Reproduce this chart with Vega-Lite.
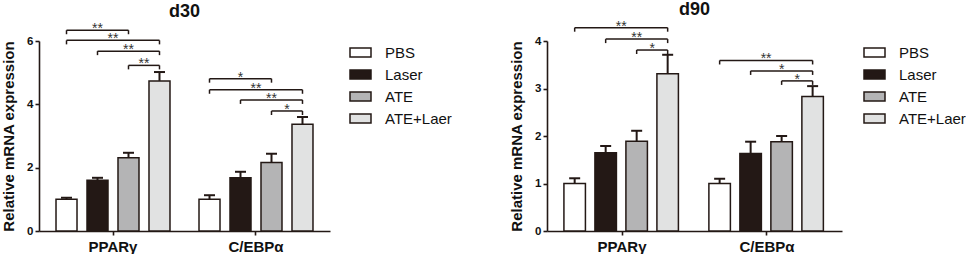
{
  "$schema": "https://vega.github.io/schema/vega-lite/v6.json",
  "background": "white",
  "padding": {"left": 1, "top": 0, "right": 0, "bottom": 0},
  "config": {
    "font": "Liberation Sans",
    "view": {"stroke": null},
    "title": {"font": "Liberation Sans", "fontSize": 18, "fontWeight": "bold", "color": "#111111", "anchor": "middle"},
    "axis": {"domainColor": "#231815", "domainWidth": 1.6, "tickColor": "#231815", "tickWidth": 1.6, "tickSize": 4, "labelColor": "#111111", "titleColor": "#111111", "labelFont": "Liberation Sans", "titleFont": "Liberation Sans", "labelFontWeight": "bold", "titleFontWeight": "bold", "grid": false},
    "legend": {"labelFont": "Liberation Sans", "labelFontSize": 15, "labelColor": "#111111", "symbolType": "M-1,-0.43L1,-0.43L1,0.43L-1,0.43Z", "symbolSize": 441, "symbolStrokeColor": "#231815", "symbolStrokeWidth": 1.5, "rowPadding": 2, "labelOffset": 13}
  },
  "datasets": {
    "bars": [
      {"panel": "d30", "gene": "PPARγ", "treatment": "PBS", "mean": 1.0, "upper": 1.05},
      {"panel": "d30", "gene": "PPARγ", "treatment": "Laser", "mean": 1.6, "upper": 1.68},
      {"panel": "d30", "gene": "PPARγ", "treatment": "ATE", "mean": 2.31, "upper": 2.47},
      {"panel": "d30", "gene": "PPARγ", "treatment": "ATE+Laer", "mean": 4.74, "upper": 5.02},
      {"panel": "d30", "gene": "C/EBPα", "treatment": "PBS", "mean": 1.0, "upper": 1.13},
      {"panel": "d30", "gene": "C/EBPα", "treatment": "Laser", "mean": 1.68, "upper": 1.87},
      {"panel": "d30", "gene": "C/EBPα", "treatment": "ATE", "mean": 2.16, "upper": 2.44},
      {"panel": "d30", "gene": "C/EBPα", "treatment": "ATE+Laer", "mean": 3.37, "upper": 3.6},
      {"panel": "d90", "gene": "PPARγ", "treatment": "PBS", "mean": 1.0, "upper": 1.11},
      {"panel": "d90", "gene": "PPARγ", "treatment": "Laser", "mean": 1.65, "upper": 1.79},
      {"panel": "d90", "gene": "PPARγ", "treatment": "ATE", "mean": 1.89, "upper": 2.11},
      {"panel": "d90", "gene": "PPARγ", "treatment": "ATE+Laer", "mean": 3.31, "upper": 3.71},
      {"panel": "d90", "gene": "C/EBPα", "treatment": "PBS", "mean": 1.0, "upper": 1.1},
      {"panel": "d90", "gene": "C/EBPα", "treatment": "Laser", "mean": 1.63, "upper": 1.88},
      {"panel": "d90", "gene": "C/EBPα", "treatment": "ATE", "mean": 1.88, "upper": 2.0},
      {"panel": "d90", "gene": "C/EBPα", "treatment": "ATE+Laer", "mean": 2.83, "upper": 3.05}
    ],
    "sig": [
      {"panel": "d30", "gene": "PPARγ", "from": "PBS", "to": "ATE", "mid": "Laser", "y": 6.34, "label": "**"},
      {"panel": "d30", "gene": "PPARγ", "from": "PBS", "to": "ATE+Laer", "mid": "Laser|ATE", "y": 6.02, "label": "**"},
      {"panel": "d30", "gene": "PPARγ", "from": "Laser", "to": "ATE+Laer", "mid": "ATE", "y": 5.68, "label": "**"},
      {"panel": "d30", "gene": "PPARγ", "from": "ATE", "to": "ATE+Laer", "mid": "ATE|ATE+Laer", "y": 5.23, "label": "**"},
      {"panel": "d30", "gene": "C/EBPα", "from": "PBS", "to": "ATE", "mid": "Laser", "y": 4.81, "label": "*"},
      {"panel": "d30", "gene": "C/EBPα", "from": "PBS", "to": "ATE+Laer", "mid": "Laser|ATE", "y": 4.46, "label": "**"},
      {"panel": "d30", "gene": "C/EBPα", "from": "Laser", "to": "ATE+Laer", "mid": "ATE", "y": 4.14, "label": "**"},
      {"panel": "d30", "gene": "C/EBPα", "from": "ATE", "to": "ATE+Laer", "mid": "ATE|ATE+Laer", "y": 3.79, "label": "*"},
      {"panel": "d90", "gene": "PPARγ", "from": "PBS", "to": "ATE+Laer", "mid": "Laser|ATE", "y": 4.28, "label": "**"},
      {"panel": "d90", "gene": "PPARγ", "from": "Laser", "to": "ATE+Laer", "mid": "ATE", "y": 4.04, "label": "**"},
      {"panel": "d90", "gene": "PPARγ", "from": "ATE", "to": "ATE+Laer", "mid": "ATE|ATE+Laer", "y": 3.81, "label": "*"},
      {"panel": "d90", "gene": "C/EBPα", "from": "PBS", "to": "ATE+Laer", "mid": "Laser|ATE", "y": 3.59, "label": "**"},
      {"panel": "d90", "gene": "C/EBPα", "from": "Laser", "to": "ATE+Laer", "mid": "ATE", "y": 3.37, "label": "*"},
      {"panel": "d90", "gene": "C/EBPα", "from": "ATE", "to": "ATE+Laer", "mid": "ATE|ATE+Laer", "y": 3.16, "label": "*"}
    ]
  },
  "resolve": {"scale": {"x": "independent", "y": "independent", "fill": "independent"}, "legend": {"fill": "independent"}},
  "spacing": 57,
  "hconcat": [
    {
      "title": {"text": "d30", "offset": 1},
      "width": 291,
      "height": 190,
      "layer": [
        {
          "data": {"name": "bars"},
          "transform": [{"filter": "datum.panel === 'd30'"}],
          "mark": {"type": "bar", "width": 21, "stroke": "#231815", "strokeWidth": 1.5},
          "encoding": {
            "x": {"field": "gene", "type": "nominal", "sort": ["PPARγ", "C/EBPα"], "scale": {"paddingInner": 0.133, "paddingOuter": 0.084}, "axis": {"title": null, "labelAngle": 0, "labelFontSize": 15, "labelPadding": 4}},
            "xOffset": {"field": "treatment", "type": "nominal", "scale": {"domain": ["PBS", "PBS|Laser", "Laser", "Laser|ATE", "ATE", "ATE|ATE+Laer", "ATE+Laer"], "paddingInner": 0, "paddingOuter": 0.5}},
            "y": {"field": "mean", "type": "quantitative", "scale": {"domain": [0, 6], "nice": false}, "axis": {"title": "Relative mRNA expression", "titleFontSize": 15, "titlePadding": 10, "values": [0, 2, 4, 6], "labelFontSize": 11.5, "labelPadding": 2}},
            "fill": {"field": "treatment", "type": "nominal", "scale": {"domain": ["PBS", "Laser", "ATE", "ATE+Laer"], "range": ["#ffffff", "#231815", "#b4b4b5", "#e1e2e2"]}, "legend": {"title": null, "offset": 19}}
          }
        },
        {
          "data": {"name": "bars"},
          "transform": [{"filter": "datum.panel === 'd30'"}],
          "mark": {"type": "rule", "color": "#231815", "strokeWidth": 2},
          "encoding": {
            "x": {"field": "gene", "type": "nominal", "sort": ["PPARγ", "C/EBPα"]},
            "xOffset": {"field": "treatment", "type": "nominal", "scale": {"domain": ["PBS", "PBS|Laser", "Laser", "Laser|ATE", "ATE", "ATE|ATE+Laer", "ATE+Laer"]}},
            "y": {"field": "mean", "type": "quantitative"},
            "y2": {"field": "upper"}
          }
        },
        {
          "data": {"name": "bars"},
          "transform": [{"filter": "datum.panel === 'd30'"}],
          "mark": {"type": "tick", "orient": "horizontal", "color": "#231815", "size": 11, "thickness": 2, "opacity": 1},
          "encoding": {
            "x": {"field": "gene", "type": "nominal", "sort": ["PPARγ", "C/EBPα"]},
            "xOffset": {"field": "treatment", "type": "nominal", "scale": {"domain": ["PBS", "PBS|Laser", "Laser", "Laser|ATE", "ATE", "ATE|ATE+Laer", "ATE+Laer"]}},
            "y": {"field": "upper", "type": "quantitative"}
          }
        },
        {
          "data": {"name": "sig"},
          "transform": [{"filter": "datum.panel === 'd30'"}, {"fold": ["from", "to"], "as": ["end", "treat"]}],
          "mark": {"type": "line", "color": "#231815", "strokeWidth": 1.5},
          "encoding": {
            "x": {"field": "gene", "type": "nominal", "sort": ["PPARγ", "C/EBPα"]},
            "xOffset": {"field": "treat", "type": "nominal", "scale": {"domain": ["PBS", "PBS|Laser", "Laser", "Laser|ATE", "ATE", "ATE|ATE+Laer", "ATE+Laer"]}},
            "y": {"field": "y", "type": "quantitative"},
            "detail": {"field": "y", "type": "quantitative"}
          }
        },
        {
          "data": {"name": "sig"},
          "transform": [{"filter": "datum.panel === 'd30'"}, {"fold": ["from", "to"], "as": ["end", "treat"]}],
          "mark": {"type": "rule", "color": "#231815", "strokeWidth": 1.5, "y2Offset": 4},
          "encoding": {
            "x": {"field": "gene", "type": "nominal", "sort": ["PPARγ", "C/EBPα"]},
            "xOffset": {"field": "treat", "type": "nominal", "scale": {"domain": ["PBS", "PBS|Laser", "Laser", "Laser|ATE", "ATE", "ATE|ATE+Laer", "ATE+Laer"]}},
            "y": {"field": "y", "type": "quantitative"},
            "y2": {"field": "y"}
          }
        },
        {
          "data": {"name": "sig"},
          "transform": [{"filter": "datum.panel === 'd30'"}],
          "mark": {"type": "text", "fontSize": 14, "color": "#333333", "baseline": "alphabetic", "dy": 3},
          "encoding": {
            "x": {"field": "gene", "type": "nominal", "sort": ["PPARγ", "C/EBPα"]},
            "xOffset": {"field": "mid", "type": "nominal", "scale": {"domain": ["PBS", "PBS|Laser", "Laser", "Laser|ATE", "ATE", "ATE|ATE+Laer", "ATE+Laer"]}},
            "y": {"field": "y", "type": "quantitative"},
            "text": {"field": "label"}
          }
        }
      ]
    },
    {
      "title": {"text": "d90", "offset": 1},
      "width": 295,
      "height": 190,
      "layer": [
        {
          "data": {"name": "bars"},
          "transform": [{"filter": "datum.panel === 'd90'"}],
          "mark": {"type": "bar", "width": 21.5, "stroke": "#231815", "strokeWidth": 1.5},
          "encoding": {
            "x": {"field": "gene", "type": "nominal", "sort": ["PPARγ", "C/EBPα"], "scale": {"paddingInner": 0.133, "paddingOuter": 0.084}, "axis": {"title": null, "labelAngle": 0, "labelFontSize": 15, "labelPadding": 4}},
            "xOffset": {"field": "treatment", "type": "nominal", "scale": {"domain": ["PBS", "PBS|Laser", "Laser", "Laser|ATE", "ATE", "ATE|ATE+Laer", "ATE+Laer"], "paddingInner": 0, "paddingOuter": 0.5}},
            "y": {"field": "mean", "type": "quantitative", "scale": {"domain": [0, 4], "nice": false}, "axis": {"title": "Relative mRNA expression", "titleFontSize": 15, "titlePadding": 10, "values": [0, 1, 2, 3, 4], "labelFontSize": 11.5, "labelPadding": 2}},
            "fill": {"field": "treatment", "type": "nominal", "scale": {"domain": ["PBS", "Laser", "ATE", "ATE+Laer"], "range": ["#ffffff", "#231815", "#b4b4b5", "#e1e2e2"]}, "legend": {"title": null, "offset": 21}}
          }
        },
        {
          "data": {"name": "bars"},
          "transform": [{"filter": "datum.panel === 'd90'"}],
          "mark": {"type": "rule", "color": "#231815", "strokeWidth": 2},
          "encoding": {
            "x": {"field": "gene", "type": "nominal", "sort": ["PPARγ", "C/EBPα"]},
            "xOffset": {"field": "treatment", "type": "nominal", "scale": {"domain": ["PBS", "PBS|Laser", "Laser", "Laser|ATE", "ATE", "ATE|ATE+Laer", "ATE+Laer"]}},
            "y": {"field": "mean", "type": "quantitative"},
            "y2": {"field": "upper"}
          }
        },
        {
          "data": {"name": "bars"},
          "transform": [{"filter": "datum.panel === 'd90'"}],
          "mark": {"type": "tick", "orient": "horizontal", "color": "#231815", "size": 11, "thickness": 2, "opacity": 1},
          "encoding": {
            "x": {"field": "gene", "type": "nominal", "sort": ["PPARγ", "C/EBPα"]},
            "xOffset": {"field": "treatment", "type": "nominal", "scale": {"domain": ["PBS", "PBS|Laser", "Laser", "Laser|ATE", "ATE", "ATE|ATE+Laer", "ATE+Laer"]}},
            "y": {"field": "upper", "type": "quantitative"}
          }
        },
        {
          "data": {"name": "sig"},
          "transform": [{"filter": "datum.panel === 'd90'"}, {"fold": ["from", "to"], "as": ["end", "treat"]}],
          "mark": {"type": "line", "color": "#231815", "strokeWidth": 1.5},
          "encoding": {
            "x": {"field": "gene", "type": "nominal", "sort": ["PPARγ", "C/EBPα"]},
            "xOffset": {"field": "treat", "type": "nominal", "scale": {"domain": ["PBS", "PBS|Laser", "Laser", "Laser|ATE", "ATE", "ATE|ATE+Laer", "ATE+Laer"]}},
            "y": {"field": "y", "type": "quantitative"},
            "detail": {"field": "y", "type": "quantitative"}
          }
        },
        {
          "data": {"name": "sig"},
          "transform": [{"filter": "datum.panel === 'd90'"}, {"fold": ["from", "to"], "as": ["end", "treat"]}],
          "mark": {"type": "rule", "color": "#231815", "strokeWidth": 1.5, "y2Offset": 4},
          "encoding": {
            "x": {"field": "gene", "type": "nominal", "sort": ["PPARγ", "C/EBPα"]},
            "xOffset": {"field": "treat", "type": "nominal", "scale": {"domain": ["PBS", "PBS|Laser", "Laser", "Laser|ATE", "ATE", "ATE|ATE+Laer", "ATE+Laer"]}},
            "y": {"field": "y", "type": "quantitative"},
            "y2": {"field": "y"}
          }
        },
        {
          "data": {"name": "sig"},
          "transform": [{"filter": "datum.panel === 'd90'"}],
          "mark": {"type": "text", "fontSize": 14, "color": "#333333", "baseline": "alphabetic", "dy": 3},
          "encoding": {
            "x": {"field": "gene", "type": "nominal", "sort": ["PPARγ", "C/EBPα"]},
            "xOffset": {"field": "mid", "type": "nominal", "scale": {"domain": ["PBS", "PBS|Laser", "Laser", "Laser|ATE", "ATE", "ATE|ATE+Laer", "ATE+Laer"]}},
            "y": {"field": "y", "type": "quantitative"},
            "text": {"field": "label"}
          }
        }
      ]
    }
  ]
}
